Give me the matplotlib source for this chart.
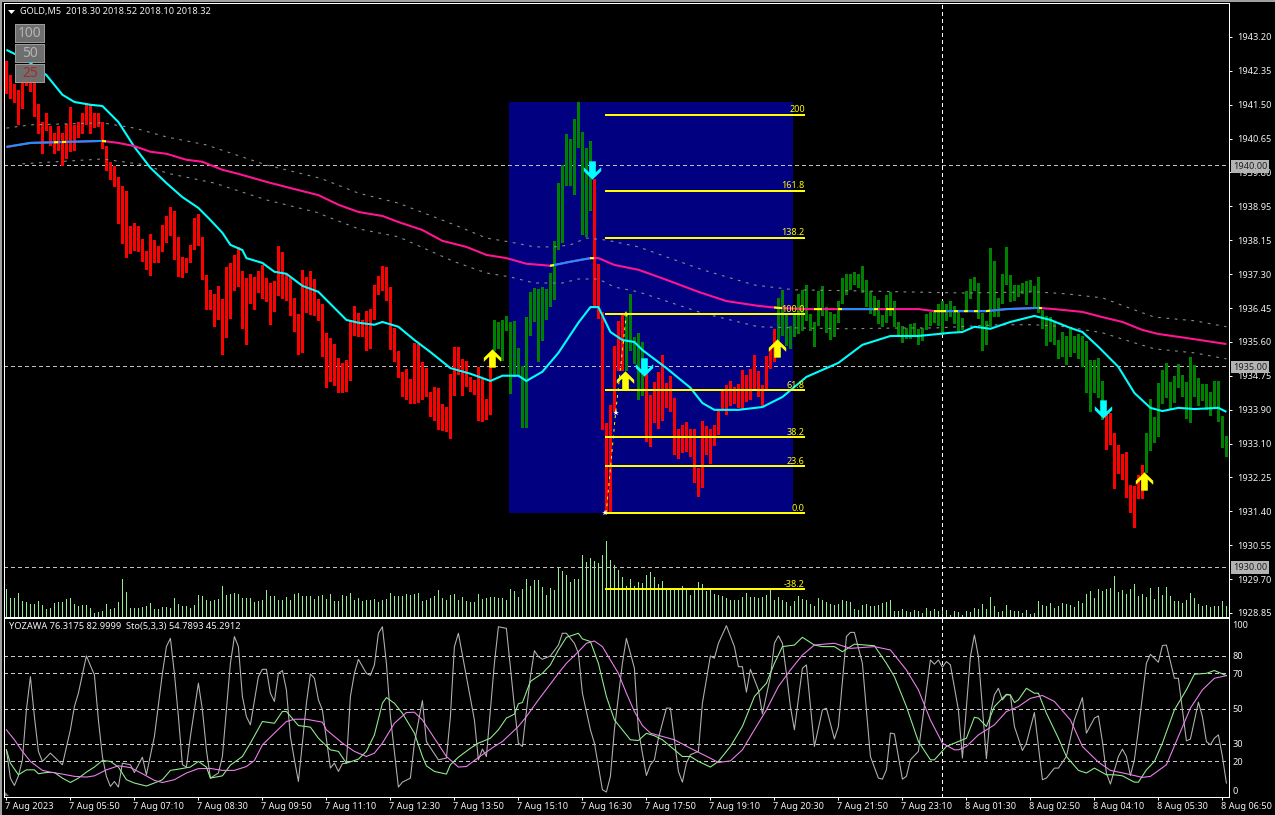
import numpy as np
import matplotlib
matplotlib.use("Agg")
import matplotlib.pyplot as plt
from matplotlib.patches import Rectangle, Polygon
from matplotlib.path import Path
from matplotlib.transforms import ScaledTranslation

W, H = 1275, 815
plt.rcParams['font.family'] = ['Noto Sans', 'DejaVu Sans']

# ------------------------------------------------------------------ data
PRICE_BASE = 1930.0   # bar values below are price minus this base

bar_high = [
12.60,12.26,12.03,11.88,12.06,12.38,12.26,12.13,11.53,11.08,
11.31,10.99,10.81,10.99,10.81,11.04,11.46,11.01,11.08,11.31,
11.56,11.51,11.31,11.31,11.08,10.49,10.09,9.99,9.71,9.49,
9.37,8.49,8.57,8.49,8.17,7.87,8.30,8.15,8.00,8.52,
8.74,8.97,8.87,8.22,7.72,7.70,8.02,8.69,8.79,8.22,
7.27,6.90,6.80,7.00,6.68,7.47,7.57,7.77,7.97,7.37,
7.20,7.30,7.22,7.37,7.52,7.20,7.07,7.12,8.00,7.85,
7.30,7.22,6.70,6.30,7.40,7.22,7.37,7.17,6.68,6.55,
5.83,5.70,5.55,5.21,5.08,5.16,6.15,6.50,6.33,6.15,
6.38,6.43,7.02,7.25,7.50,7.47,6.97,5.95,5.38,4.86,
4.93,4.68,5.58,5.55,5.11,4.96,4.36,4.48,4.46,4.06,
3.99,4.81,5.48,5.48,5.18,5.13,4.73,4.66,4.98,4.68,
4.18,5.26,6.15,6.10,6.15,6.25,6.10,6.13,5.46,5.01,
6.23,6.85,6.95,6.93,6.97,6.93,7.32,8.12,9.57,10.01,
10.79,10.66,11.16,11.58,10.84,10.44,10.61,9.67,7.55,6.35,
3.59,4.04,5.51,6.13,6.28,6.28,6.80,5.73,5.83,5.60,
4.83,4.28,4.61,4.86,5.28,4.58,4.76,4.21,3.44,3.54,
3.61,3.44,3.44,2.47,3.64,3.51,3.44,3.54,3.91,4.41,
4.53,4.63,4.48,4.56,4.91,4.78,4.93,5.28,4.88,4.53,
5.26,5.43,5.93,6.70,6.90,6.28,6.00,6.28,6.80,6.90,
7.02,6.30,6.10,6.88,7.00,6.48,6.35,6.30,6.63,7.20,
7.30,7.30,7.35,7.30,7.50,7.15,6.88,6.75,6.65,6.28,
6.78,6.85,6.63,6.10,6.00,5.95,6.05,6.08,5.93,5.95,
6.30,6.35,6.38,6.55,6.63,6.55,6.63,6.50,6.38,6.20,
6.88,7.17,7.22,7.07,6.33,6.13,7.95,7.62,6.70,7.30,
7.97,7.27,7.02,7.02,7.07,7.12,7.15,7.00,7.22,6.40,
6.25,6.23,6.10,5.65,5.85,5.75,5.93,5.75,5.80,5.75,
5.63,5.16,5.16,5.21,4.63,3.81,3.84,3.34,3.04,2.81,
2.86,2.04,2.02,2.29,2.54,3.34,4.18,3.74,4.58,4.91,
5.08,4.61,4.76,5.06,4.78,4.61,5.23,5.03,4.71,4.56,
4.56,4.36,4.63,4.63,3.76,3.26]

bar_low = [
11.81,11.68,11.58,11.04,11.43,12.01,11.86,11.23,10.81,10.31,
10.89,10.51,10.31,10.39,10.01,10.19,10.36,10.39,10.71,10.81,
11.04,10.81,10.96,10.99,10.44,9.89,9.67,9.49,8.57,8.07,
7.72,7.82,7.90,7.87,7.62,7.42,7.27,7.60,7.60,7.87,
8.10,8.27,7.67,7.25,7.22,7.35,7.60,7.92,8.02,7.17,
6.43,6.43,6.00,6.18,5.31,5.73,6.20,6.90,7.00,5.95,
5.55,6.58,6.43,6.85,6.70,6.63,6.05,6.38,6.78,6.70,
6.65,6.28,5.88,5.31,5.36,6.35,6.30,6.28,6.15,5.26,
4.48,4.63,4.53,4.36,4.36,4.38,4.66,5.78,5.75,5.75,
5.41,5.46,6.18,6.80,6.90,6.65,5.43,5.13,4.73,4.26,
4.18,4.09,4.09,4.11,4.18,4.26,3.76,3.66,3.44,3.41,
3.39,3.21,4.28,4.81,4.28,4.51,4.38,4.31,3.66,3.64,
3.69,3.81,5.41,5.46,5.16,5.90,4.33,4.76,4.78,3.49,
3.49,5.78,6.13,5.13,5.65,6.18,6.50,6.68,7.92,8.10,
9.52,9.52,9.29,10.46,8.30,8.25,8.89,6.50,6.20,3.44,
1.37,1.37,3.89,4.91,4.91,4.91,5.41,5.08,4.18,4.28,
3.14,3.01,3.61,3.46,3.66,3.99,3.89,2.81,2.72,2.86,
2.89,2.77,2.12,1.77,1.99,2.81,2.59,3.04,3.31,3.94,
3.81,4.04,4.09,3.99,3.96,4.13,4.18,4.46,4.26,4.01,
4.41,4.96,5.13,5.65,5.78,5.53,5.46,5.75,5.83,5.90,
6.15,5.90,5.51,6.03,6.28,5.85,5.68,5.75,6.10,6.58,
6.80,6.93,7.05,6.97,6.85,6.50,6.33,6.28,6.08,6.00,
6.10,6.28,6.00,5.75,5.60,5.70,5.70,5.75,5.55,5.65,
5.93,6.03,6.10,6.03,5.80,6.15,6.25,6.08,5.90,5.93,
6.40,6.70,6.90,6.20,5.41,5.55,6.00,6.25,6.25,6.58,
7.05,6.63,6.65,6.75,6.83,6.55,6.88,6.48,6.35,5.95,
5.53,5.63,5.55,5.21,5.26,5.06,5.26,5.36,5.21,5.01,
4.36,3.89,4.36,4.23,3.69,2.94,3.06,1.97,2.34,2.19,
1.74,1.37,1.00,1.72,1.72,2.37,2.91,3.11,3.26,4.09,
4.23,3.96,4.11,4.48,4.26,3.71,3.61,4.26,4.04,4.16,
3.94,3.79,3.96,3.64,2.99,2.77]

# inclusive bar ranges of the red (down) swing, the others are green
red_ranges = [(0, 121), (147, 154), (160, 192), (275, 284)]
green_ranges = [(122, 146), (155, 159), (193, 274), (285, 305)]

volume = [
28,19,19,24,16,15,13,13,16,12,8,9,14,15,15,18,19,13,11,12,
12,9,4,5,6,13,8,9,15,38,25,9,9,9,10,11,14,8,8,10,
10,9,19,13,11,11,9,12,22,21,17,16,17,18,31,22,23,24,23,19,
19,19,15,16,17,27,21,21,17,17,20,17,23,24,21,21,21,18,21,22,
18,23,16,16,22,21,24,17,19,16,17,17,18,15,17,18,24,21,21,21,
23,22,23,24,16,17,19,21,27,19,17,22,23,17,20,16,15,15,23,18,
19,20,20,19,19,17,28,26,20,28,38,31,37,37,30,22,29,27,50,46,
42,35,38,38,62,55,59,56,54,62,76,57,52,47,40,31,38,31,35,34,
42,45,40,33,36,27,27,27,27,31,27,22,27,35,33,26,27,23,22,21,
19,17,17,17,20,24,20,20,19,20,22,27,17,20,17,15,11,16,21,18,
17,13,11,19,17,15,13,12,13,17,16,15,8,7,12,13,11,11,12,14,
15,17,6,6,8,6,5,7,6,4,9,6,8,6,6,7,2,6,5,2,
6,5,9,8,13,8,20,11,5,6,12,7,6,6,4,7,3,4,16,12,
11,14,9,11,14,13,12,10,16,14,23,26,19,28,26,28,29,41,25,27,
23,28,33,21,23,20,29,18,30,22,30,21,16,16,14,17,24,19,13,11,
12,10,11,11,16,11]

# moving averages: bar index of each vertex read, and price there
ma_fast_idx = [0,4,6,10,14,17,21,24,28,32,36,40,44,48,51,54,56,59,60,64,67,70,74,78,80,85,88,92,94,98,102,106,111,116,121,124,128,130,134,138,143,146,148,151,154,157,159,165,171,174,177,183,189,194,200,208,214,221,228,236,239,242,246,251,257,261,266,269,273,278,282,286,289,293,297,303,305]
ma_fast = [1942.88,1942.68,1942.55,1942.25,1941.76,1941.58,1941.51,1941.48,1941.08,1940.46,1939.94,1939.56,1939.21,1938.94,1938.64,1938.32,1938.02,1937.89,1937.69,1937.57,1937.35,1937.30,1937.00,1936.85,1936.65,1936.15,1936.08,1936.03,1936.10,1935.98,1935.65,1935.35,1934.95,1934.81,1934.63,1934.76,1934.76,1934.63,1934.86,1935.33,1936.08,1936.47,1936.47,1935.85,1935.65,1935.60,1935.40,1934.95,1934.46,1934.08,1933.91,1933.91,1933.98,1934.23,1934.73,1935.08,1935.53,1935.75,1935.75,1935.83,1935.85,1935.98,1935.93,1936.10,1936.25,1936.15,1935.95,1935.85,1935.48,1934.98,1934.33,1933.96,1933.88,1933.96,1933.93,1933.96,1933.86]

ma_slow_idx = [0,6,24,28,32,36,40,45,49,54,58,65,72,78,83,88,94,98,104,109,115,120,125,130,136,141,146,148,152,158,165,173,180,188,193,200,228,232,245,250,258,262,269,274,279,284,288,295,305]
ma_slow = [1940.46,1940.56,1940.61,1940.56,1940.48,1940.34,1940.29,1940.14,1940.09,1939.89,1939.79,1939.59,1939.41,1939.26,1939.02,1938.84,1938.74,1938.59,1938.39,1938.12,1937.97,1937.77,1937.69,1937.55,1937.50,1937.60,1937.69,1937.69,1937.52,1937.40,1937.15,1936.85,1936.62,1936.50,1936.45,1936.42,1936.42,1936.37,1936.37,1936.42,1936.45,1936.42,1936.35,1936.22,1936.10,1935.90,1935.80,1935.70,1935.55]
ma_rising_spans = [(0, 25), (136, 147), (209, 217), (232, 259)]
ma_flat_spans = [(12, 12.8), (14, 14.8), (24, 24.8), (136, 136.8), (146, 146.8), (192, 194), (202, 204), (208, 208.8), (217, 217.8), (220, 222), (232, 235), (237, 237.8), (239.5, 240.3), (242, 242.8), (245, 245.8), (258.2, 259)]

band_up_idx = [0,6,24,32,40,50,65,78,79,88,98,112,120,126,132,137,141,145,150,158,174,187,197,215,224,240,257,265,274,282,287,297,305]
band_up = [1940.93,1941.01,1941.06,1940.93,1940.71,1940.51,1940.01,1939.69,1939.66,1939.31,1939.06,1938.52,1938.19,1938.09,1937.97,1937.97,1938.02,1938.19,1938.14,1937.97,1937.40,1937.02,1936.90,1936.87,1936.85,1936.82,1936.85,1936.80,1936.70,1936.40,1936.22,1936.13,1935.98]
band_dn_idx = [4,24,35,40,52,65,78,79,88,98,112,120,126,132,139,143,148,152,158,174,188,198,210,224,232,248,257,265,274,282,287,297,305]
band_dn = [1940.04,1940.16,1940.01,1939.81,1939.56,1939.14,1938.82,1938.77,1938.42,1938.22,1937.60,1937.32,1937.22,1937.07,1937.07,1937.17,1937.17,1936.97,1936.85,1936.32,1935.98,1935.95,1935.93,1935.95,1935.95,1936.03,1936.03,1935.98,1935.83,1935.58,1935.43,1935.33,1935.18]

# signal arrows: bar index and price of the arrow centre
arrow_up_idx = [121.5, 154.75, 192.75, 284.5]
arrow_up_px = [1935.20, 1934.66, 1935.45, 1932.14]
arrow_dn_idx = [146.5, 159.5, 274.25]
arrow_dn_px = [1939.89, 1934.98, 1933.93]

# Fibonacci tool
fib_low, fib_high = 1931.34, 1936.30
fib_levels = [2.0, 1.618, 1.382, 1.0, 0.618, 0.382, 0.236, 0.0, -0.382]
fib_labels = ["200", "161.8", "138.2", "100.0", "61.8", "38.2", "23.6", "0.0", "-38.2"]
fib_start, fib_end = 149.75, 199.75
fib_box_start, fib_box_end = 125.6, 196.6
fib_box_low, fib_box_high = 1931.34, 1941.58
fib_mid_price = 1933.83
fib_mid_idx = 152.3
fib_top_idx = 155.0

# oscillator window
yoz_idx = [0,1,2,3,4,5,6,7,8,9,11,14,16,17,18,20,22,23,24,25,26,27,28,29,31,32,34,35,37,39,40,41,42,43,44,45,46,48,49,50,51,53,54,56,57,58,59,60,61,63,64,65,66,67,68,69,70,71,72,73,74,75,76,77,78,
79,81,82,83,84,85,86,87,88,90,91,92,93,94,95,96,98,99,101,102,104,105,108,110,111,112,113,115,117,118,119,120,122,123,125,127,128,129,131,132,133,134,136,138,139,140,142,143,144,146,147,149,150,151,152,154,155,157,158,159,
160,161,162,163,165,166,168,169,170,171,173,174,176,177,178,180,182,183,184,185,186,188,189,191,192,193,194,195,196,197,199,200,202,204,205,207,208,210,211,212,214,216,218,219,220,221,222,224,225,226,228,231,232,233,234,235,236,238,
239,241,242,243,245,246,247,248,249,250,251,252,254,255,257,259,260,262,263,265,267,269,270,272,273,274,275,276,278,279,280,281,282,283,284,285,286,288,289,290,292,293,295,296,298,299,300,301,302,303,304,305]
yoz = [26.5,10.4,6.2,11.7,20.8,49.2,68.1,45.4,25.6,19.9,24.6,18,37.9,51.1,58.7,79.9,69.1,43.5,22.7,11.4,5.7,8.5,5.3,18.9,18,13.6,22.3,12.3,34.1,70,85.2,89.9,70,45.4,18,16.7,34.1,64.4,49.2,26.5,10.4,13.3,22.7,75.7,90.9,85.2,56.8,45.4,40.7,68.1,72.3,72.3,58.7,54,70,71.6,60.6,34.1,20.8,8.5,30.3,53,69.7,67.2,54.9,
49.2,16.1,18.9,14.2,18.6,18.9,56.8,70,78,70,68.9,74.8,92.8,96.5,75.7,45.4,5.3,8.1,10.4,30.3,54.5,31.2,20.8,21.8,45.4,85.2,92.8,68.1,43.5,20.8,26.9,22.7,75.7,96.5,95.6,51.1,30.3,28.4,68.1,82.9,79.5,78,79.9,86.1,92.8,92.8,87.1,81.4,58.7,37.9,30.3,3.8,2.5,11.4,37.9,75.7,89.9,72.9,37.9,24.6,
11.9,18,20.8,33.1,50.2,50.2,14.2,8.1,18.9,23.7,25.6,53,79.9,78.6,87.1,97.1,85.2,73.8,73.8,59.3,72.3,60.6,46.9,68.1,87.1,91.4,87.1,70,51.1,37.9,72.9,74.8,28.4,49.2,50.2,32.7,39.8,90.9,93.3,93.3,75.7,22.7,10.4,9.8,15.1,36,35.6,9.8,11.4,20.8,25.6,77.6,75.2,77.6,73.5,76.7,74.8,49.2,
21.8,79.5,91.8,79.5,21.4,47.3,57.7,61.5,54.9,57.7,57.7,39.8,26.1,30.3,47.7,9.5,10.4,16.1,16.1,22.7,43.5,56.2,36,44.5,45.8,31.2,13.3,7,22.7,26.9,22.7,11.9,20.8,37.9,56.8,75.7,80.8,76.3,85.8,86.1,67.2,67.2,31.6,32.6,53.6,45.4,31.2,29.3,33.1,35,22.7,7.6]

sto_main_idx = [0,1,3,5,7,8,10,12,14,16,18,20,22,24,26,28,30,32,35,38,39,41,43,46,48,50,51,54,56,59,61,64,67,69,70,73,76,78,
81,83,85,88,90,92,94,95,97,99,102,104,105,107,110,111,113,116,118,121,123,125,127,128,129,131,134,136,138,140,143,144,146,148,150,152,154,156,158,
160,162,164,166,168,169,171,173,176,178,181,184,187,190,192,194,197,199,202,204,207,209,212,217,220,222,225,228,231,232,235,238,
240,242,243,245,247,250,251,252,253,255,257,258,260,263,265,268,270,272,275,277,279,282,283,285,287,289,292,295,297,300,302,305]
sto_main = [26.5,18.9,12.3,15.1,15.1,12.9,13.6,13.6,10.4,7.9,10.4,13.8,16.7,20.4,19.9,16.7,9.5,7.6,5.9,8.5,9.5,14.8,15.5,16.7,19.9,16.7,10.4,11.7,17.8,22.7,30.3,42.6,41.6,48.3,48.3,40.3,39.4,33.1,
26.5,25.6,18.9,21.2,25.6,35,53,56.2,53,47.3,36,22.7,17.4,14.2,12.7,18,22.3,27.4,30.3,33.1,37.9,44.5,46.8,52.7,53.4,65.4,70,74.8,83.3,90.5,92.8,89.6,88.1,75.7,56.8,43.5,37.9,32.2,31.8,
35.9,34.5,32.2,28.4,24.6,22.7,22.7,19.9,16.7,19.9,28.4,39.8,56.8,64.4,75.7,85.2,86.1,90.5,86.1,85.2,85.2,82.3,86.6,85.7,75.7,68.1,51.1,31.2,20.8,20.8,28.4,31.2,
33.1,45,44.5,39.8,51.1,58.1,57.7,53.4,54.9,61.5,58.7,58.7,47.3,33.1,22.7,14.8,13.3,16.1,12.3,12.3,11.7,8.1,8.1,15.1,19.9,30.3,49.2,60.6,69.5,70,71.6,68.7]

sto_sig_idx = [0,2,4,6,9,11,14,17,20,22,25,28,31,34,37,39,42,45,48,51,54,57,60,62,64,67,70,72,75,79,
80,84,87,90,92,94,97,100,102,104,107,110,113,115,118,122,124,128,130,133,138,140,143,145,147,149,151,153,155,157,159,
161,167,171,176,178,181,184,187,190,193,196,199,202,207,211,217,221,225,228,231,234,237,238,
240,243,247,250,253,256,259,262,266,269,273,276,280,284,286,290,293,296,299,302,305]
sto_sig = [37.9,32.2,25.6,19.9,14.8,13.8,12.7,11.4,11,11.7,15.1,17.4,16.4,12.9,9.1,7.9,9.5,13.3,15.8,15.9,14.8,14.8,17,20.4,29.3,36,42.6,43.9,43.9,42.2,
37.9,30.3,25.6,22.7,24.6,30.3,41.6,47.7,47.9,43.5,33.1,22.7,16.7,17,22.1,28.4,31.2,39.8,45.4,54.9,70,75.7,82.3,87.1,88.4,85.2,77.6,70,58.7,48.3,40.3,
36,32.2,27.4,21.7,19.3,20.2,26.5,37.9,49.2,62.5,71.9,80.4,86.1,87.1,84.2,85.2,83.3,71.9,60.6,43.5,30.3,26.5,26.5,
28.4,35,40.7,48.3,51.1,55.8,57.4,54,43.5,28.4,19.5,14.8,12.9,10.8,11.4,18,34.1,50.2,60.6,67.2,68.7]

price_levels = [1940.0, 1935.0, 1930.0]
osc_levels = [80, 70, 50, 30, 20]
cursor_idx = 234

price_tick_labels = ["1943.20","1942.35","1941.50","1940.65","1939.80","1938.95","1938.15","1937.30","1936.45",
                     "1935.60","1934.75","1933.90","1933.10","1932.25","1931.40","1930.55","1929.70","1928.85"]
osc_tick_labels = [100, 80, 70, 50, 30, 20, 0]
time_tick_idx = list(range(0, 306, 16))
time_tick_labels = ["7 Aug 2023","7 Aug 05:50","7 Aug 07:10","7 Aug 08:30","7 Aug 09:50","7 Aug 11:10","7 Aug 12:30",
                    "7 Aug 13:50","7 Aug 15:10","7 Aug 16:30","7 Aug 17:50","7 Aug 19:10","7 Aug 20:30","7 Aug 21:50",
                    "7 Aug 23:10","8 Aug 01:30","8 Aug 02:50","8 Aug 04:10","8 Aug 05:30","8 Aug 06:50"]
header_text = "GOLD,M5  2018.30 2018.52 2018.10 2018.32"
osc_text = "YOZAWA 76.3175 82.9999  Sto(5,3,3) 54.7893 45.2912"
button_labels = ["100", "50", "25"]
button_colors = ["#b4b4b4", "#b4b4b4", "#a52a2a"]

# ------------------------------------------------------------------ layout helpers
def fx(x): return x / W
def fy(y): return 1 - y / H
def rect(x0, y0, x1, y1, **kw):
    return Rectangle((fx(x0), fy(y1)), (x1 - x0) / W, (y1 - y0) / H, transform=fig.transFigure, **kw)

fig = plt.figure(figsize=(W / 100, H / 100), dpi=100, facecolor='black')
TXT = 6.6
TC = '#f2f2f2'
LW = 0.72     # one pixel

L, R = 4, 1229
ax = fig.add_axes([fx(L), fy(617), (R - L) / W, (617 - 3) / H])
vol_ax = ax.twinx()
osc = fig.add_axes([fx(L), fy(797), (R - L) / W, (797 - 618) / H], facecolor='black')

xlim = ((L - 6.4) / 4, (R - 6.4) / 4)
ax.set_xlim(*xlim)
ax.set_ylim(1940 + (165.4 - 617) / 40.14, 1940 + (165.4 - 3) / 40.14)
vol_ax.set_ylim(-0.5, 613.5)
vol_ax.set_zorder(0)
ax.set_zorder(1)
ax.patch.set_visible(False)
vol_ax.patch.set_facecolor('black')
osc.set_xlim(*xlim)
osc.set_ylim((796.4 - 797) / 1.758, (796.4 - 618) / 1.758)

for a in (ax, vol_ax, osc):
    for s in a.spines.values():
        s.set_color('white')
        s.set_linewidth(LW)

# main window
ax.add_patch(Rectangle((fib_box_start, fib_box_low), fib_box_end - fib_box_start, fib_box_high - fib_box_low,
                       facecolor='#000080', edgecolor='none', zorder=1, antialiased=False))

x_all = np.arange(len(bar_high))
hi = PRICE_BASE + np.array(bar_high)
lo = PRICE_BASE + np.array(bar_low)
for ranges, col in ((red_ranges, '#ff0000'), (green_ranges, '#008000')):
    for s, e in ranges:
        ax.vlines(x_all[s:e + 1], lo[s:e + 1], hi[s:e + 1], colors=col, linewidth=2.15,
                  zorder=3, capstyle='butt', antialiased=False)

vol_ax.vlines(x_all, 0, volume, colors='#90ee90', linewidth=0.7, zorder=2, capstyle='butt', antialiased=False)
vol_ax.set_yticks([])

for lv in price_levels:
    ax.axhline(lv, color='#c0c0c0', lw=LW, ls=(0, (3, 3)), zorder=2, antialiased=False)
ax.axvline(cursor_idx, color='white', lw=LW, ls=(0, (3, 3)), zorder=2, antialiased=False)
osc.axvline(cursor_idx, color='white', lw=LW, ls=(0, (3, 3)), zorder=2, antialiased=False)

ax.plot(band_up_idx, band_up, color='#8a8a8a', lw=0.8, ls=(0, (2.5, 5)), zorder=4)
ax.plot(band_dn_idx, band_dn, color='#8a8a8a', lw=0.8, ls=(0, (2.5, 5)), zorder=4)
ax.plot(ma_fast_idx, ma_fast, color='#00ffff', lw=1.5, zorder=5, solid_capstyle='butt')

ax.plot(ma_slow_idx, ma_slow, color='#ff1493', lw=1.5, zorder=5, solid_capstyle='butt')
y0, y1 = ax.get_ylim()
def span_line(spans, col, z):
    for s, e in spans:
        ln, = ax.plot(ma_slow_idx, ma_slow, color=col, lw=1.5, zorder=z, solid_capstyle='butt')
        ln.set_clip_path(Rectangle((s, y0), e - s, y1 - y0, transform=ax.transData))
span_line(ma_rising_spans, '#1e90ff', 5.1)
span_line(ma_flat_spans, '#ffff00', 5.2)

for lvl, lab in zip(fib_levels, fib_labels):
    p = fib_low + lvl * (fib_high - fib_low)
    ax.plot([fib_start, fib_end], [p, p], color='#ffff00', lw=1.44, zorder=6, solid_capstyle='butt')
    ax.annotate(lab, (fib_end, p), xytext=(-0.5, 0.3), textcoords='offset points', ha='right', va='bottom',
                color='#ffff00', fontsize=TXT - 0.1, zorder=7)

ax.plot([fib_start + 0.2, fib_mid_idx, fib_top_idx], [fib_low, fib_mid_price, fib_high], color='#ffff00', lw=0.7,
        ls=(0, (3, 4)), zorder=6)
ax.plot([fib_start, fib_mid_idx], [fib_low, fib_mid_price], ls='none', marker='*', ms=4.2, mfc='white', mec='white',
        mew=0, zorder=7)
ax.plot([fib_top_idx], [fib_high], ls='none', marker='*', ms=4.2, mfc='#ffff00', mec='#ffff00', mew=0, zorder=7)

up_verts = [(0, 1), (.95, .07), (.95, -.36), (.36, .2), (.36, -1), (-.36, -1), (-.36, .2), (-.95, -.36), (-.95, .07), (0, 1)]
up_arrow = Path(up_verts, closed=True)
dn_arrow = Path([(x, -y) for x, y in up_verts], closed=True)
ax.scatter(arrow_up_idx, arrow_up_px, marker=up_arrow, s=13.2 ** 2, color='#ffff00', linewidths=0, zorder=8)
ax.scatter(arrow_dn_idx, arrow_dn_px, marker=dn_arrow, s=13.2 ** 2, color='#00ffff', linewidths=0, zorder=8)

# price axis
ax.yaxis.tick_right()
ticks = np.linspace(1943.20, 1928.85, len(price_tick_labels))
ax.set_yticks(ticks)
ax.set_yticklabels(price_tick_labels, fontsize=TXT, color=TC)
ax.tick_params(axis='y', length=2.2, width=LW, color='white', pad=3.5)
ax.set_xticks([])
for lv in price_levels:
    ax.annotate(f"{lv:.2f}", (1, lv), xycoords=('axes fraction', 'data'), xytext=(3.0, 0), textcoords='offset points',
                ha='left', va='center_baseline', fontsize=TXT, color='#202020', zorder=20, annotation_clip=False,
                bbox=dict(boxstyle='square,pad=0.2', facecolor='#b4b4b4', edgecolor='none'))

# oscillator window
for lv in osc_levels:
    osc.axhline(lv, color='#c8c8c8', lw=LW, ls=(0, (3, 3)), zorder=1, antialiased=False)
osc.plot(yoz_idx, yoz, color='#b0b0b0', lw=0.78, zorder=3)
osc.plot(sto_main_idx, sto_main, color='#90ee90', lw=0.78, zorder=4)
osc.plot(sto_sig_idx, sto_sig, color='#ee82ee', lw=0.78, zorder=4)
osc.yaxis.tick_right()
osc.set_yticks(osc_tick_labels)
osc.set_yticklabels(osc_tick_labels, fontsize=TXT, color=TC)
osc.tick_params(axis='y', length=0, pad=2.4)
labs = osc.get_yticklabels()
labs[0].set_va('top')
labs[-1].set_va('bottom')
osc.set_xticks(time_tick_idx)
osc.set_xticklabels(time_tick_labels, fontsize=TXT, color=TC, ha='left')
osc.tick_params(axis='x', length=2.2, width=LW, color='white', pad=1.6)
for t in osc.get_xticklabels():
    t.set_transform(t.get_transform() + ScaledTranslation(-1 / 72, 0, fig.dpi_scale_trans))

# window chrome
fig.add_artist(rect(0, 0, 2, H, facecolor='#a0a0a0', edgecolor='none', zorder=0))
fig.add_artist(rect(0, 0, W, 2, facecolor='#a0a0a0', edgecolor='none', zorder=0))
fig.add_artist(Polygon([(fx(8), fy(10)), (fx(15), fy(10)), (fx(11.5), fy(14))], closed=True, transform=fig.transFigure,
                       facecolor='white', edgecolor='none', zorder=6))
fig.add_artist(Polygon([(fx(5), fy(792)), (fx(9), fy(796)), (fx(5), fy(796))], closed=True, transform=fig.transFigure,
                       facecolor='#708090', edgecolor='none', zorder=6))
fig.text(fx(20), fy(11.5), header_text, color=TC, fontsize=TXT, va='center', ha='left', zorder=7)
fig.text(fx(9), fy(627), osc_text, color=TC, fontsize=TXT + 0.1, va='center', ha='left', zorder=7)

# period buttons
for k, (lab, col) in enumerate(zip(button_labels, button_colors)):
    top = 24 + k * 20
    fig.add_artist(rect(15, top, 45, top + 19, facecolor='#9a9a9a', edgecolor='none', zorder=5))
    fig.add_artist(rect(16, top + 1, 44, top + 18, facecolor='#6e6e6e', edgecolor='none', zorder=5.1))
    fig.text(fx(30), fy(top + 9.5), lab, color=col, fontsize=10, ha='center', va='center', zorder=7)

fig.savefig('out.png', dpi=100, facecolor='black')
